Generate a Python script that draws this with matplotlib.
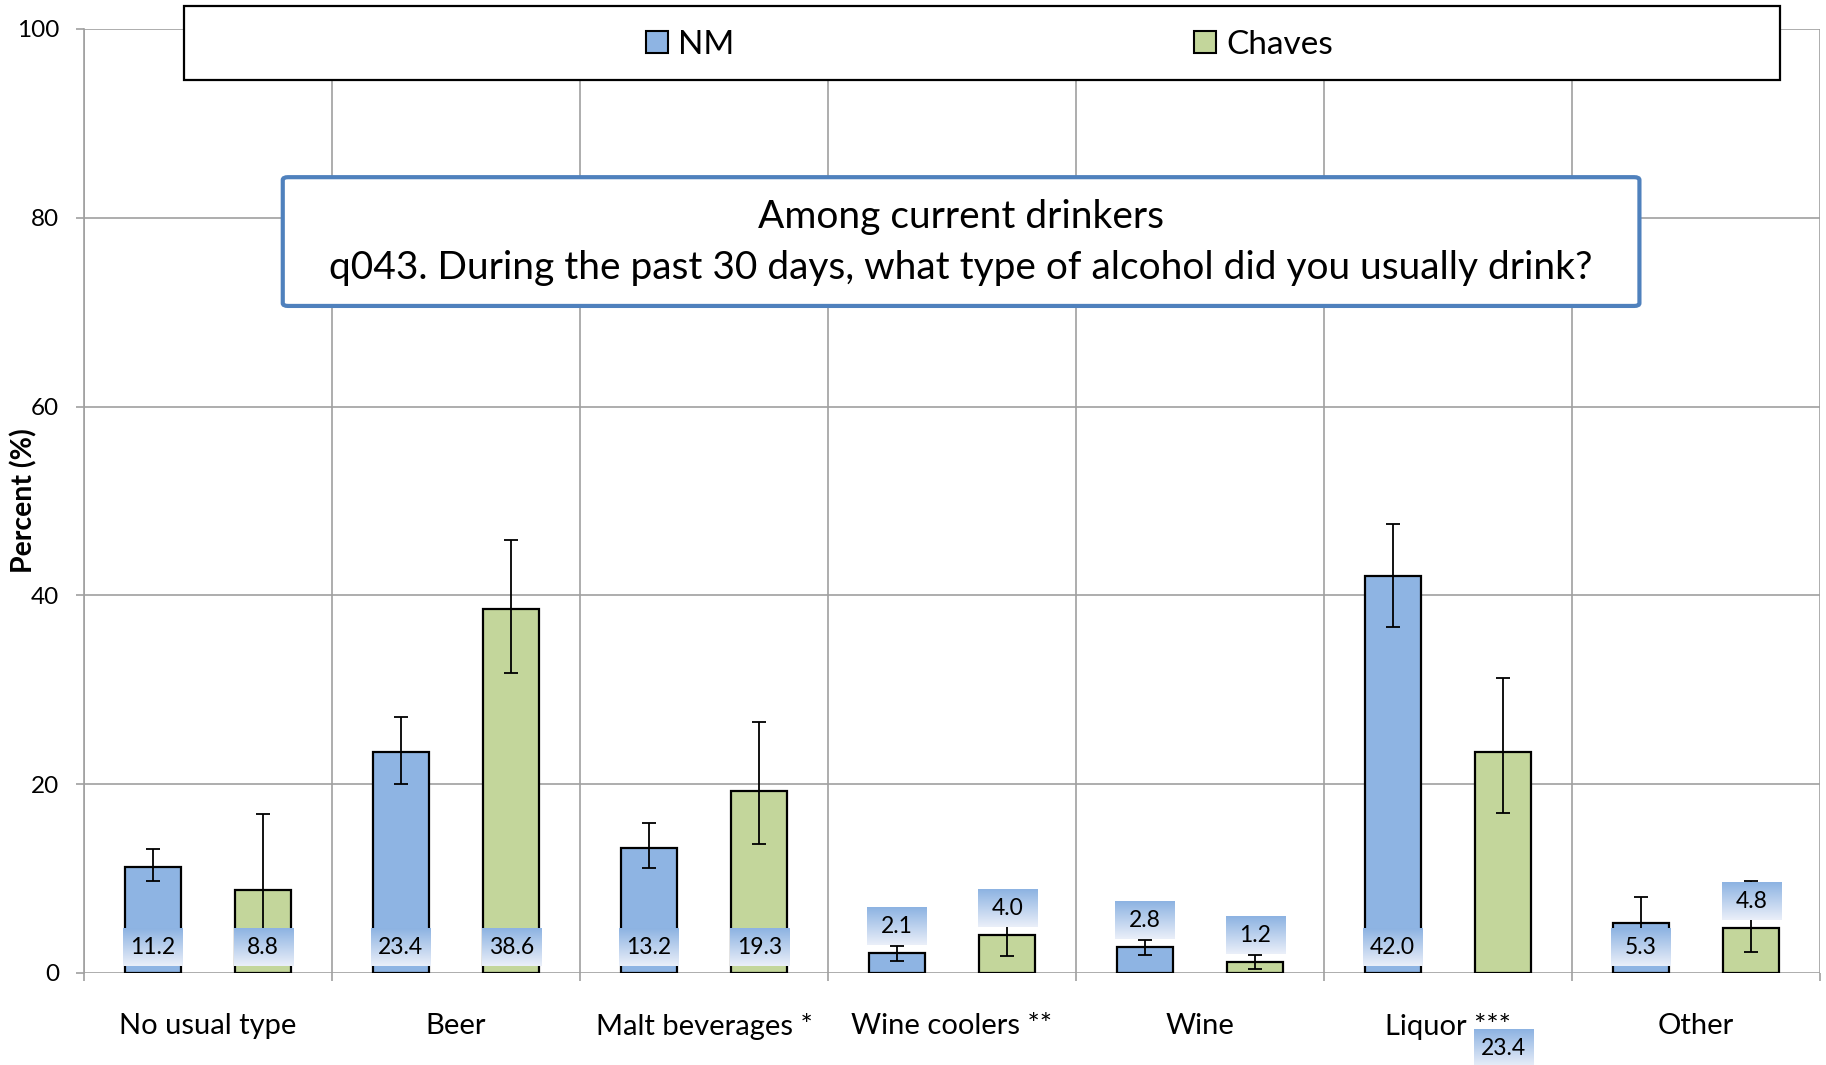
import matplotlib
matplotlib.use('Agg')
import matplotlib.pyplot as plt
import numpy as np
from matplotlib.colors import LinearSegmentedColormap
from matplotlib.patches import Rectangle, FancyBboxPatch, Patch

plt.rcParams['font.family'] = ['Lato', 'DejaVu Sans']

# datos
categories = ['No usual type', 'Beer', 'Malt beverages *', 'Wine coolers **',
              'Wine', 'Liquor ***', 'Other']
nm_values = [11.2, 23.4, 13.2, 2.1, 2.8, 42.0, 5.3]
nm_lower = [9.7, 20.0, 11.1, 1.3, 1.9, 36.6, 2.6]
nm_upper = [13.1, 27.1, 15.9, 2.9, 3.5, 47.6, 8.0]
chaves_values = [8.8, 38.6, 19.3, 4.0, 1.2, 23.4, 4.8]
chaves_lower = [0.8, 31.8, 13.7, 1.8, 0.4, 17.0, 2.2]
chaves_upper = [16.8, 45.9, 26.6, 6.2, 1.9, 31.2, 9.7]
series_names = ['NM', 'Chaves']
title_lines = ['Among current drinkers',
               'q043. During the past 30 days, what type of alcohol did you usually drink?']

nm_color = '#8EB4E3'
chaves_color = '#C3D69B'
grid_color = '#A0A0A0'

fig = plt.figure(figsize=(18.26, 10.65), dpi=100)
ax = fig.add_axes([0.046, 0.0864, 0.9507, 0.8864])

x = np.arange(len(categories))
bw = 0.226
off = 0.223

series = [
    (nm_values, nm_lower, nm_upper, nm_color, -off),
    (chaves_values, chaves_lower, chaves_upper, chaves_color, off),
]

grad = LinearSegmentedColormap.from_list('lbl', ['#EAEFF9', '#8DB3E2'])
grad_img = np.linspace(0, 1, 64).reshape(-1, 1)
box_w, box_h = 0.238, 3.95

for s, (vals, lo, hi, col, dx) in enumerate(series):
    vals = np.array(vals)
    err = np.array([vals - np.array(lo), np.array(hi) - vals])
    ax.bar(x + dx, vals, bw, color=col, edgecolor='black', linewidth=1.6, zorder=3)
    ax.errorbar(x + dx, vals, yerr=err, fmt='none', ecolor='black',
                elinewidth=1.3, capsize=5, capthick=1.3, zorder=4)
    for i, v in enumerate(vals):
        # etiquetas: dentro de la base, o encima si la barra es baja
        yc = v + 2.8 if v < 5 else 2.75
        if s == 1 and categories[i].startswith('Liquor'):
            yc = -8.0
        xc = x[i] + dx
        im = ax.imshow(grad_img, cmap=grad, origin='lower', aspect='auto',
                       extent=(xc - box_w / 2, xc + box_w / 2, yc - box_h / 2, yc + box_h / 2),
                       zorder=5, interpolation='bilinear')
        im.set_clip_on(False)
        ax.text(xc, yc, f'{v:.1f}', ha='center', va='center', fontsize=16.5, zorder=6)

ax.set_xlim(-0.5, len(categories) - 0.5)
ax.set_ylim(0, 100)
ax.set_yticks(np.arange(0, 101, 20))
ax.set_xticks(x)
ax.set_xticklabels(categories, fontsize=21)
ax.set_xticks(np.arange(-0.5, len(categories), 1), minor=True)
ax.tick_params(axis='x', which='major', length=0, pad=29)
ax.tick_params(axis='x', which='minor', length=6, color=grid_color, width=1.2)
ax.tick_params(axis='y', labelsize=17.5, length=6, color=grid_color, width=1.2, pad=12)
ax.grid(axis='y', color=grid_color, linewidth=1.2, zorder=0)
ax.grid(axis='x', which='minor', color=grid_color, linewidth=1.2, zorder=0)
ax.set_axisbelow(True)
for sp in ['top', 'right', 'bottom']:
    ax.spines[sp].set_visible(False)
ax.spines['left'].set_color(grid_color)
ax.spines['left'].set_linewidth(1.2)
ax.set_ylabel('Percent (%)', fontsize=20.5, fontweight='bold')
ax.yaxis.set_label_coords(-0.027, 0.5)

# caja del titulo
tbox = FancyBboxPatch((0.1145, 0.7066), 0.896 - 0.1145, 0.843 - 0.7066,
                      boxstyle='round,pad=0,rounding_size=0.003',
                      transform=ax.transAxes, facecolor='white',
                      edgecolor='#4F81BD', linewidth=3, zorder=7)
ax.add_patch(tbox)
ax.text(0.505, 0.7735, '\n'.join(title_lines), transform=ax.transAxes,
        ha='center', va='center', fontsize=28, linespacing=1.52, zorder=8)

# caja de la leyenda
lbox = Rectangle((0.0576, 0.946), 0.977 - 0.0576, 1.0244 - 0.946,
                 transform=ax.transAxes, facecolor='white', edgecolor='black',
                 linewidth=1.6, zorder=7, clip_on=False)
ax.add_patch(lbox)
handles = [Patch(facecolor=nm_color, edgecolor='black', linewidth=1.5),
           Patch(facecolor=chaves_color, edgecolor='black', linewidth=1.5)]
leg = ax.legend(handles, series_names, loc='center', bbox_to_anchor=(0.5216, 0.983),
                bbox_transform=ax.transAxes, ncol=2, frameon=False, fontsize=24,
                handlelength=0.65, handleheight=0.65, handletextpad=0.3,
                columnspacing=13.8)
leg.set_zorder(9)

fig.savefig('out.png', dpi=100)
